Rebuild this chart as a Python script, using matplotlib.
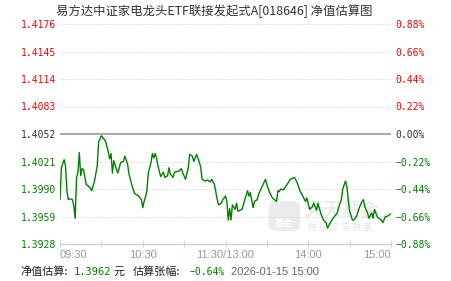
import matplotlib
matplotlib.use('Agg')
import matplotlib.pyplot as plt
from matplotlib.patches import FancyBboxPatch

# minute offsets from 09:30 (lunch break removed) and estimated NAV
minutes = [0, 1, 3, 4, 5, 6, 7, 9, 10, 11, 12, 13, 14, 15, 16, 17, 19, 20, 22, 23,
           25, 27, 28, 30, 31, 33, 35, 36, 37, 38, 39, 41, 42, 44, 46, 47, 49, 50, 52, 54,
           56, 57, 59, 60, 61, 62, 63, 64, 66, 67, 68, 69, 70, 71, 73, 75, 76, 78, 79, 80,
           82, 83, 86, 88, 89, 91, 93, 94, 96, 97, 99, 100, 102, 103, 105, 107, 109, 110, 112, 114,
           115, 117, 118, 120, 121, 122, 123, 124, 125, 127, 128, 129, 132, 134, 136, 137, 138, 140, 141, 143,
           144, 146, 149, 150, 152, 154, 157, 158, 159, 160, 162, 165, 167, 170, 172, 174, 176, 178, 179, 181,
           183, 184, 186, 187, 189, 191, 193, 194, 196, 198, 201, 202, 204, 205, 207, 208, 209, 210, 212, 213,
           215, 217, 219, 220, 221, 223, 224, 226, 227, 228, 230, 231, 233, 234, 236, 237, 240]
nav = [1.3978, 1.4014, 1.4023, 1.4016, 1.3988, 1.3978, 1.3979, 1.3978, 1.3971, 1.3957,
       1.4003, 1.4009, 1.4031, 1.4005, 1.4013, 1.4012, 1.3995, 1.3994, 1.3991, 1.3988,
       1.3999, 1.4016, 1.4043, 1.4050, 1.4048, 1.4044, 1.4032, 1.4024, 1.4030, 1.4008,
       1.4022, 1.4012, 1.4008, 1.4020, 1.4021, 1.4027, 1.4018, 1.4007, 1.3995, 1.3985,
       1.3983, 1.3982, 1.3978, 1.3969, 1.3976, 1.3981, 1.3988, 1.4008, 1.4020, 1.4030,
       1.4025, 1.4030, 1.4025, 1.4016, 1.4004, 1.4009, 1.4003, 1.4005, 1.4014, 1.4007,
       1.4003, 1.4009, 1.4010, 1.4013, 1.4008, 1.4001, 1.4014, 1.4029, 1.4027, 1.4021,
       1.4029, 1.4025, 1.4015, 1.4001, 1.3999, 1.4000, 1.3998, 1.4001, 1.3995, 1.3978,
       1.3972, 1.3974, 1.3978, 1.3982, 1.3976, 1.3955, 1.3968, 1.3955, 1.3972, 1.3967,
       1.3974, 1.3965, 1.3967, 1.3978, 1.3988, 1.3982, 1.3986, 1.3969, 1.3976, 1.3978,
       1.3984, 1.3991, 1.4001, 1.3995, 1.3986, 1.3980, 1.3976, 1.3988, 1.3987, 1.3990,
       1.3989, 1.3996, 1.4001, 1.4003, 1.3997, 1.3988, 1.3982, 1.3976, 1.3980, 1.3967,
       1.3970, 1.3974, 1.3966, 1.3974, 1.3963, 1.3955, 1.3952, 1.3946, 1.3952, 1.3957,
       1.3963, 1.3969, 1.3978, 1.3990, 1.3999, 1.3993, 1.3978, 1.3965, 1.3955, 1.3955,
       1.3959, 1.3969, 1.3976, 1.3978, 1.3970, 1.3963, 1.3957, 1.3963, 1.3957, 1.3967,
       1.3959, 1.3957, 1.3955, 1.3952, 1.3959, 1.3959, 1.3962]

base = 1.4052
price_ticks = [1.3928, 1.3959, 1.3990, 1.4021, 1.4052, 1.4083, 1.4114, 1.4145, 1.4176]
pct_labels = ['−0.88%', '−0.66%', '−0.44%', '−0.22%', '0.00%', '0.22%', '0.44%', '0.66%', '0.88%']
time_labels = ['09:30', '', '10:30', '', '11:30/13:00', '', '14:00', '', '15:00']

title = '易方达中证家电龙头ETF联接发起式A[018646] 净值估算图'
green = '#008000'
red = '#ff0000'

plt.rcParams['font.family'] = ['Noto Sans CJK SC', 'DejaVu Sans']

fig = plt.figure(figsize=(4.51, 2.81), dpi=100)
ax = fig.add_axes([60 / 451, 37 / 281, 331 / 451, 220 / 281])

# watermark (logo box + text)
icon = FancyBboxPatch((0.635, 0.065), 0.085, 0.125, boxstyle='round,pad=0.005,rounding_size=0.025',
                      transform=ax.transAxes, facecolor='#ebebeb', edgecolor='none', zorder=0)
ax.add_patch(icon)
ax.text(0.6775, 0.095, '基金', transform=ax.transAxes, fontsize=6.5, color='white',
        ha='center', va='center', zorder=0, fontweight='bold')
ax.text(0.853, 0.15, '天天基金', transform=ax.transAxes, fontsize=13.5, color='#ebebeb',
        ha='center', va='center', zorder=0, fontweight='bold')
ax.text(0.846, 0.075, '链 接 您 与 财 富', transform=ax.transAxes, fontsize=6.5, color='#e4e4e4',
        ha='center', va='center', zorder=0)

for p in price_ticks:
    if p == base:
        ax.axhline(p, color='#999999', lw=1.2, zorder=1)
    elif p != price_ticks[0]:
        ax.axhline(p, color='#dddddd', lw=0.8, ls=(0, (1, 1)), zorder=1)

ax.plot(minutes, nav, color=green, lw=1.0, zorder=3)

ax.set_xlim(0, 240)
ax.set_ylim(price_ticks[0], price_ticks[-1])

for s in ['top', 'left', 'right']:
    ax.spines[s].set_visible(False)
ax.spines['bottom'].set_color('#c5d3e2')
ax.spines['bottom'].set_linewidth(1)

ax.set_xticks(range(0, 241, 30))
ax.set_xticklabels(time_labels)
ax.tick_params(axis='x', direction='inout', length=5, color='#c5d3e2', labelsize=8,
               labelcolor='#999999', pad=2)
for lbl in ax.get_xticklabels():
    lbl.set_fontfamily('Liberation Sans')
ax.get_xticklabels()[0].set_horizontalalignment('left')
ax.get_xticklabels()[-1].set_horizontalalignment('right')

ax.set_yticks(price_ticks)
ax.set_yticklabels([f'{p:.4f}' for p in price_ticks])
ax.tick_params(axis='y', length=0, pad=3, labelsize=7)
for p, lbl in zip(price_ticks, ax.get_yticklabels()):
    lbl.set_fontfamily('DejaVu Sans Mono')
    lbl.set_color(red if p > base else (green if p < base else '#333333'))

ax2 = ax.twinx()
ax2.set_ylim(ax.get_ylim())
ax2.set_yticks(price_ticks)
ax2.set_yticklabels(pct_labels)
ax2.tick_params(axis='y', length=0, pad=3, labelsize=7)
for s in ['top', 'left', 'right', 'bottom']:
    ax2.spines[s].set_visible(False)
for p, lbl in zip(price_ticks, ax2.get_yticklabels()):
    lbl.set_fontfamily('DejaVu Sans Mono')
    lbl.set_color(red if p > base else (green if p < base else '#333333'))

fig.text(214 / 451, 1 - 11 / 281, title, ha='center', va='center', fontsize=8.9, color='#333333')

# bottom summary line
y = 1 - 272 / 281
fig.text(20 / 451, y, '净值估算:', fontsize=8, color='#222222', va='center')
fig.text(74 / 451, y, f'{nav[-1]:.4f}', fontsize=7.5, color=green, va='center', family='DejaVu Sans Mono')
fig.text(114 / 451, y, '元', fontsize=8, color='#222222', va='center')
fig.text(133 / 451, y, '估算张幅:', fontsize=8, color='#222222', va='center')
fig.text(190 / 451, y, '−0.64%', fontsize=7, color=green, va='center', family='DejaVu Sans Mono')
fig.text(231 / 451, y, '2026-01-15 15:00', fontsize=8, color='#666666', va='center', family='Liberation Sans')

fig.savefig('out.png', dpi=100)
